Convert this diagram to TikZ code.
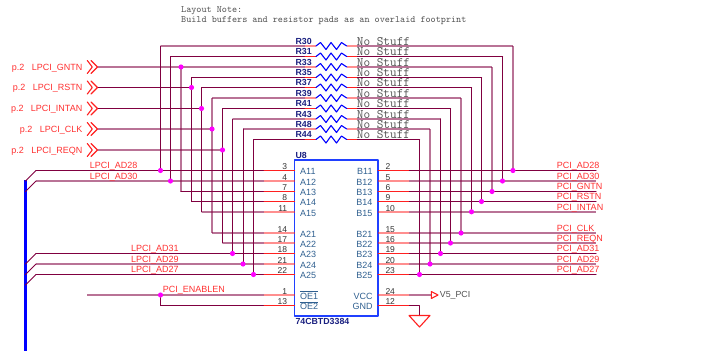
\documentclass[tikz,border=0pt]{standalone}
\usepackage{fontspec}
\setmainfont{Liberation Sans}
\definecolor{wirecol}{HTML}{800040}
\definecolor{pinred}{HTML}{FF2020}
\definecolor{labred}{HTML}{FF3030}
\definecolor{icblue}{HTML}{2040FF}
\definecolor{pinblue}{HTML}{306090}
\definecolor{refnavy}{HTML}{1A2080}
\definecolor{graytxt}{HTML}{505050}
\definecolor{dotcol}{HTML}{FF00FF}
\tikzset{
	wd/.style={draw=wirecol,line width=1pt},
	wp/.style={draw=wirecol,draw opacity=0.55,line width=2pt,line cap=butt},
	sd/.style={draw=pinred,line width=1pt},
	sp/.style={draw=pinred,draw opacity=0.5,line width=2pt,line cap=butt},
	chev/.style={draw=pinred,line width=1.1pt},
	dot/.style={circle,fill=dotcol,inner sep=0pt,minimum size=5.2pt},
	lab/.style={inner sep=0pt,text=labred,font=\fontsize{9}{9}\selectfont},
	refdes/.style={inner sep=0pt,anchor=base west,text=refnavy,font=\bfseries\fontsize{8.8}{9}\selectfont},
	pinnum/.style={inner sep=0pt,text=black!80,font=\fontsize{8.5}{9}\selectfont},
	pinname/.style={inner sep=0pt,text=pinblue,font=\fontsize{9}{9}\selectfont},
	note/.style={inner sep=0pt,anchor=base west,text=graytxt,font=\ttfamily\fontsize{9.7}{10}\selectfont},
}
\begin{document}
\begin{tikzpicture}[x=1pt,y=-1pt,line cap=round,line join=round]
	\useasboundingbox (0,0) rectangle (704,351);
	\node[note] (note1) at (181,12) {Layout Note:};
	\node[note] (note2) at (181,22) {Build buffers and resistor pads as an overlaid footprint};
	\node[draw=icblue,line width=1.5pt,outer sep=0pt,inner sep=0pt,minimum width=83.3pt,minimum height=156pt,anchor=north west] (U8) at (294.7,160) {};
	\node[refdes] (u8name) at (295.3,158.5) {U8};
	\node[refdes] (u8type) at (295.3,324.5) {74CBTD3384};
	% bus
	\coordinate (bustop) at (25.5,180);
	\coordinate (busend) at (25.5,351);
	\coordinate (ent) at (36,0);
	\coordinate (pend) at (596,0);
	\coordinate (enstart) at (87.3,0);
	\coordinate (enbr) at (160.5,0);
	\draw[draw=blue,line width=2.6pt,line cap=butt] (bustop)--(busend);
	% resistors and their row wires
	\foreach \r/\y/\xa/\xb/\rs in {30/46/160.5/512.9/p,31/56.5/170.5/502.5/d,33/67/181/492/p,35/77.5/191.5/481.5/d,37/87.5/201.5/471.5/d,39/98/212/461/p,41/108.5/222.5/450.5/d,43/119/232.5/440.5/p,48/129/243/430/p,44/139.5/253.5/419.5/d}{
		\coordinate (rl\r) at (305,\y);
		\coordinate (rr\r) at (356.7,\y);
		\coordinate (vl\r) at (\xa,\y);
		\coordinate (vr\r) at (\xb,\y);
		\draw[w\rs] (rl\r)--(vl\r);
		\draw[w\rs] (rr\r)--(vr\r);
		\draw[s\rs] (rl\r)--++(11,0);
		\draw[s\rs] (rr\r)--++(-10,0);
		\draw[draw=blue,line width=1.1pt] ([xshift=11pt]rl\r)--++(4.5,-3.5)--++(5.5,7)--++(5,-7)--++(5.5,7)--++(5,-7)--++(5.2,3.5);
		\node[refdes] (lab\r) at (295.3,{\y-2}) {R\r};
		\node[inner sep=0pt,anchor=base west,text=graytxt,font=\ttfamily\fontsize{12.9}{13}\selectfont] (ns\r) at (356.7,{\y-1}) {No Stuff};
	}
	% left pins
	\foreach \pn/\num/\y/\from/\st in {A11/3/170.5/ent/d,A12/4/181/ent/p,A13/7/191.5/vl33/d,A14/8/201.5/vl35/d,A15/11/211.8/vl37/p,A21/14/233/vl39/p,A22/17/243/vl41/p,A23/18/253.5/ent/d,A24/21/264/ent/p,A25/22/274.5/ent/d,OE1/1/295/enstart/p,OE2/13/305.5/enbr/d}{
		\coordinate (\pn) at (264,\y);
		\draw[w\st] (\pn)--(\pn -| \from);
		\draw[s\st] (\pn)--(\pn -| U8.west);
		\node[pinnum,anchor=base east] (num\pn) at (287.3,{\y-0.7}) {\num};
	}
	% right pins
	\foreach \pn/\num/\y/\st in {B11/2/170.5/d,B12/5/181/p,B13/6/191.5/d,B14/9/201.5/d,B15/10/211.8/p,B21/15/233/p,B22/16/243/p,B23/19/253.5/d,B24/20/264/p,B25/23/274.5/d,VCC/24/295/p,GND/12/305.5/d}{
		\coordinate (\pn) at (409.3,\y);
		\draw[s\st] (\pn)--(\pn -| U8.east);
		\node[pinnum,anchor=base west] (num\pn) at (385.3,{\y-0.7}) {\num};
	}
	\foreach \pn in {A11,A12,A13,A14,A15,A21,A22,A23,A24,A25}
		\node[pinname,anchor=base west] (name\pn) at ([shift={(36,4.2)}]\pn) {\pn};
	\foreach \pn in {B11,B12,B13,B14,B15,B21,B22,B23,B24,B25,VCC,GND}
		\node[pinname,anchor=base east] (name\pn) at ([shift={(-36.6,4.2)}]\pn) {\pn};
	\node[pinname,anchor=base west] (nameOE1) at ([shift={(36,4.2)}]OE1) {$\overline{\mbox{OE1}}$};
	\node[pinname,anchor=base west] (nameOE2) at ([shift={(36,4.2)}]OE2) {$\overline{\mbox{OE2}}$};
	% verticals
	\foreach \r/\a/\b/\vl/\vr in {30/A11/B11/d/p,31/A12/B12/d/d,33/A13/B13/p/p,35/A14/B14/d/d,37/A15/B15/d/d,39/A21/B21/p/p,41/A22/B22/d/d,43/A23/B23/d/d,48/A24/B24/d/p,44/A25/B25/d/d}{
		\draw[w\vl] (vl\r)--(vl\r |- \a);
		\draw[w\vr] (vr\r)--(vr\r |- \b);
	}
	% right hand side nets
	\foreach \pn/\txt/\r/\st in {B11/AD28/30/d,B12/AD30/31/p,B13/GNTN/33/d,B14/RSTN/35/d,B15/INTAN/37/p,B21/CLK/39/p,B22/REQN/41/p,B23/AD31/43/d,B24/AD29/48/p,B25/AD27/44/d}{
		\draw[w\st] (\pn)--(\pn -| pend);
		\node[dot] (dr\r) at (vr\r |- \pn) {};
		\node[lab,anchor=base west] (net\pn) at ([shift={(147.4,-1.8)}]\pn) {PCI\_\txt};
	}
	% bus entries
	\foreach \pn/\txt/\lx in {A11/AD28/-174.3,A12/AD30/-174.3,A23/AD31/-133,A24/AD29/-133,A25/AD27/-133}{
		\draw[wd] (\pn -| ent)--++(-10.5,10.5);
		\node[lab,anchor=base west] (net\pn) at ([shift={(\lx,-1.8)}]\pn) {LPCI\_\txt};
	}
	\foreach \r/\pn in {30/A11,31/A12,43/A23,48/A24,44/A25}
		\node[dot] (dl\r) at (vl\r |- \pn) {};
	% inputs from page 2
	\foreach \sig/\y/\r/\st in {GNTN/67/33/p,RSTN/87.5/35/d,INTAN/108.5/37/d,CLK/129/39/p,REQN/150/41/p}{
		\coordinate (in\sig) at (98,\y);
		\draw[w\st] (in\sig)--(in\sig -| vl\r);
		\node[dot] (di\r) at (vl\r |- in\sig) {};
		\draw[chev] (87.3,{\y-6.5})--(92.3,\y)--(87.3,{\y+6.5}) (91,{\y-6.5})--(97.5,\y)--(91,{\y+6.5});
		\node[lab,anchor=base east] (lab\sig) at (82.5,{\y+3.2}) {p.2\hspace{7.3pt}LPCI\_\sig};
	}
	% enable
	\node[dot] (den) at (OE1 -| enbr) {};
	\draw[wd] (den) -- (OE2 -| enbr);
	\node[lab,anchor=base west] (netEN) at (162.7,292) {PCI\_ENABLEN};
	% power
	\coordinate (vsym) at (431.3,295);
	\coordinate (gsym) at (419.5,315.5);
	\draw[wp] (VCC)--(vsym);
	\draw[wd] (GND) -| (gsym);
	\draw[chev] (vsym)++(0,-3.5)--++(0,7)--++(6.7,-3.5)--cycle;
	\draw[chev] (gsym)++(-10.5,0)--++(21,0)--++(-10.5,11.5)--cycle;
	\node[inner sep=0pt,anchor=base west,text=graytxt,font=\fontsize{8.8}{9}\selectfont] (v5) at (439.7,297.2) {V5\_PCI};
\end{tikzpicture}
\end{document}
